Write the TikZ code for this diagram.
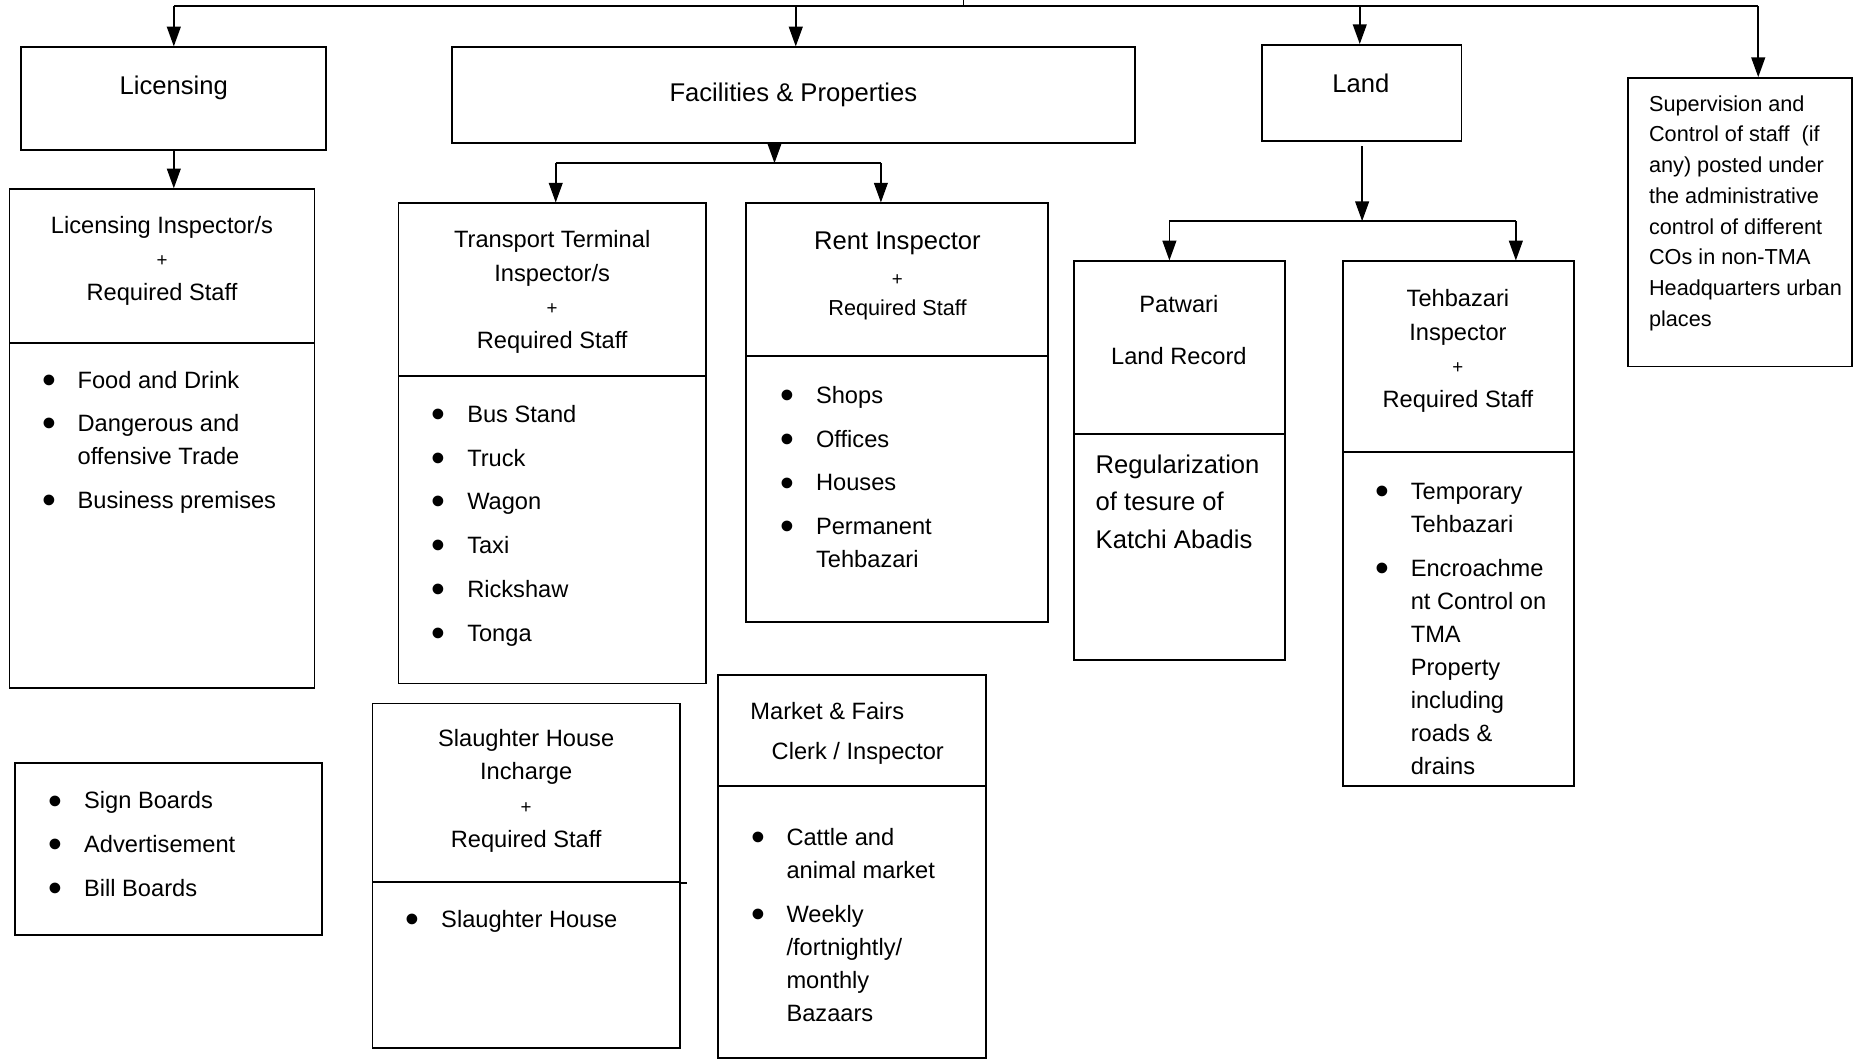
\documentclass[tikz,border=0pt]{standalone}
\usepackage{fontspec}
\setmainfont{Liberation Sans}
\usetikzlibrary{arrows.meta,fit}

\newcommand{\bul}{\makebox[18pt][l]{\raisebox{-2.6pt}{\fontsize{20}{20}\selectfont\textbullet}}}
\newcommand{\cont}{\hspace*{18pt}}
\newcommand{\plus}{{\fontsize{9.5}{11}\selectfont +}}

\begin{document}
\begin{tikzpicture}
	[x=0.6pt,y=-0.6pt,>={Triangle[length=10pt,width=7pt]},line width=0.8pt,
		box node/.style={draw,rectangle,inner sep=0pt,line width=0.9pt},
		title node/.style={font=\fontsize{13}{16}\selectfont,inner sep=0pt,anchor=base},
		head node/.style={font=\fontsize{12}{17.1}\selectfont,align=center,inner sep=0pt,anchor=north},
		list node/.style={font=\fontsize{12}{16.8}\selectfont,align=left,inner sep=0pt,anchor=north west}]

	\useasboundingbox (0,0) rectangle (1568,899);

	\node[box node, fit={(18,40) (276,127)}]      (lic)  {};
	\node[box node, fit={(382,40) (960,121)}]     (fp)   {};
	\node[box node, fit={(1067,38) (1236,119)}]   (land) {};
	\node[box node, fit={(1377,66) (1566.5,310)}] (sup)  {};

	\node[box node, fit={(8,160) (266,290)}]      (LIh)  {};
	\node[box node, fit={(8,290) (266,582)}]      (LIb)  {};
	\node[box node, fit={(337,172) (597,318)}]    (TTh)  {};
	\node[box node, fit={(337,318) (597,578)}]    (TTb)  {};
	\node[box node, fit={(631,172) (886,301)}]    (RIh)  {};
	\node[box node, fit={(631,301) (886,526)}]    (RIb)  {};
	\node[box node, fit={(908,221) (1087,367)}]   (PWh)  {};
	\node[box node, fit={(908,367) (1087,558)}]   (PWb)  {};
	\node[box node, fit={(1136,221) (1331,382)}]  (TBh)  {};
	\node[box node, fit={(1136,382) (1331,665)}]  (TBb)  {};
	\node[box node, fit={(13,645) (272,791)}]     (SB)   {};
	\node[box node, fit={(315,595) (575,746)}]    (SHh)  {};
	\node[box node, fit={(315,746) (575,886)}]    (SHb)  {};
	\node[box node, fit={(607,571) (834,665)}]    (MFh)  {};
	\node[box node, fit={(607,665) (834,895)}]    (MFb)  {};
	\draw[line width=0.9pt] (SHh.south east) -- ++(5,0);

	\node[title node] (licT)  at (147,80)   {Licensing};
	\node[title node] (fpT)   at (671,86)   {Facilities \& Properties};
	\node[title node] (landT) at (1151,78)  {Land};
	\node[list node, font=\fontsize{11}{15.6}\selectfont] (supT) at (1394,80)
		{Supervision and\\Control of staff~ (if\\any) posted under\\the administrative\\control of different\\COs in non-TMA\\Headquarters urban\\places};

	\node[head node] (LIt) at (137,182)  {Licensing Inspector/s\\\plus\\Required Staff};
	\node[list node] (LIl) at (35,313)
		{\bul Food and Drink\\[5.4pt]\bul Dangerous and\\\cont offensive Trade\\[5.4pt]\bul Business premises};

	\node[head node] (TTt) at (467,194)  {Transport Terminal\\Inspector/s\\\plus\\Required Staff};
	\node[list node] (TTl) at (364.5,342)
		{\bul Bus Stand\\[5.4pt]\bul Truck\\[5.4pt]\bul Wagon\\[5.4pt]\bul Taxi\\[5.4pt]\bul Rickshaw\\[5.4pt]\bul Tonga};

	\node[head node] (RIt) at (759,195.5)
		{{\fontsize{13}{16}\selectfont Rent Inspector}\\[1pt]\plus\\[-2pt]{\fontsize{11}{14}\selectfont Required Staff}};
	\node[list node] (RIl) at (659.5,326)
		{\bul Shops\\[5.4pt]\bul Offices\\[5.4pt]\bul Houses\\[5.4pt]\bul Permanent\\\cont Tehbazari};

	\node[head node] (PWt) at (997,249)  {Patwari\\[9.3pt]Land Record};
	\node[list node, font=\fontsize{13}{19}\selectfont] (PWl) at (926,384)
		{Regularization\\of tesure of\\Katchi Abadis};

	\node[head node] (TBt) at (1233,244) {Tehbazari\\Inspector\\\plus\\Required Staff};
	\begin{scope}
		\clip (1137,383) rectangle (1330,655);
		\node[list node] (TBl) at (1162.5,408)
			{\bul Temporary\\\cont Tehbazari\\[5.4pt]\bul Encroachme\\\cont nt Control on\\\cont TMA\\\cont Property\\\cont including\\\cont roads \&\\\cont drains};
	\end{scope}

	\node[list node] (SBl) at (40.5,669)
		{\bul Sign Boards\\[5.4pt]\bul Advertisement\\[5.4pt]\bul Bill Boards};

	\node[head node] (SHt) at (445,616)  {Slaughter House\\Incharge\\\plus\\Required Staff};
	\node[list node] (SHl) at (342.5,769) {\bul Slaughter House};

	\node[list node] (MFt) at (634,593)  {Market \& Fairs\\[3.9pt]\hspace*{10.8pt}Clerk / Inspector};
	\node[list node] (MFl) at (634.5,700)
		{\bul Cattle and\\\cont animal market\\[5.4pt]\bul Weekly\\\cont /fortnightly/\\\cont monthly\\\cont Bazaars};

	\coordinate (top)  at (815,0);
	\coordinate (busL) at (147,5);
	\coordinate (busF) at (673,5);
	\coordinate (busD) at (1150,5);
	\coordinate (busR) at (1487,5);
	\draw (top) -- (top |- busL);
	\draw (busL) -- (busR);
	\draw[->] (busL) -- (busL |- lic.north);
	\draw[->] (busF) -- (busF |- fp.north);
	\draw[->] (busD) -- (busD |- land.north);
	\draw[->] (busR) -- (busR |- sup.north);
	\draw[->] (lic.south) -- (lic.south |- LIh.north);

	\coordinate (fpJ) at (655,138);
	\coordinate (fpL) at (470,138);
	\coordinate (fpR) at (745,138);
	\draw[->] (fpJ |- fp.south) -- (fpJ);
	\draw (fpL) -- (fpR);
	\draw[->] (fpL) -- (fpL |- TTh.north);
	\draw[->] (fpR) -- (fpR |- RIh.north);

	\coordinate (ldJ) at (1152,187);
	\coordinate (ldL) at (989,187);
	\coordinate (ldR) at (1282,187);
	\draw[->,shorten <=2.4pt] (ldJ |- land.south) -- (ldJ);
	\draw (ldL) -- (ldR);
	\draw[->] (ldL) -- (ldL |- PWh.north);
	\draw[->] (ldR) -- (ldR |- TBh.north);

\end{tikzpicture}
\end{document}
